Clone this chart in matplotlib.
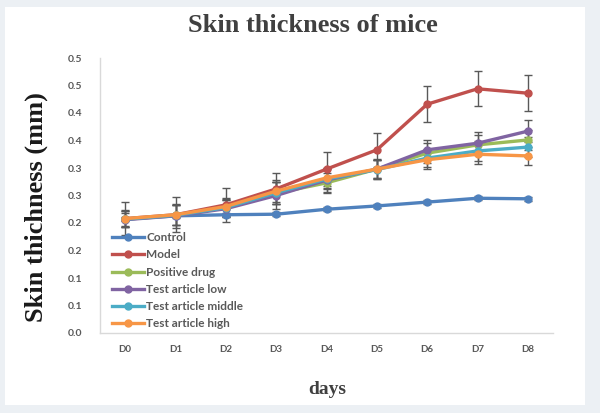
import matplotlib
matplotlib.use("Agg")
import matplotlib.pyplot as plt
from matplotlib.patches import Rectangle

days = ["D0", "D1", "D2", "D3", "D4", "D5", "D6", "D7", "D8"]
series_names = ["Control", "Model", "Positive drug", "Test article low",
                "Test article middle", "Test article high"]
control = [0.207, 0.213, 0.215, 0.216, 0.225, 0.231, 0.238, 0.245, 0.244]
model = [0.208, 0.215, 0.233, 0.262, 0.298, 0.333, 0.416, 0.444, 0.436]
positive = [0.207, 0.214, 0.228, 0.254, 0.273, 0.298, 0.327, 0.342, 0.351]
low = [0.206, 0.213, 0.226, 0.250, 0.278, 0.298, 0.333, 0.345, 0.367]
middle = [0.207, 0.214, 0.228, 0.255, 0.280, 0.297, 0.318, 0.331, 0.338]
high = [0.208, 0.215, 0.230, 0.258, 0.282, 0.298, 0.315, 0.325, 0.322]

control_err = [0.004, 0.004, 0.004, 0.004, 0.004, 0.004, 0.004, 0.004, 0.004]
model_err = [0.030, 0.032, 0.031, 0.028, 0.031, 0.031, 0.033, 0.032, 0.033]
positive_err = [0.015, 0.018, 0.015, 0.020, 0.018, 0.017, 0.018, 0.018, 0.018]
low_err = [0.012, 0.022, 0.015, 0.025, 0.022, 0.018, 0.018, 0.020, 0.020]
middle_err = [0.014, 0.018, 0.014, 0.020, 0.018, 0.017, 0.017, 0.018, 0.018]
high_err = [0.015, 0.018, 0.015, 0.020, 0.018, 0.017, 0.017, 0.018, 0.017]

y_ticks = [0.0, 0.05, 0.10, 0.15, 0.20, 0.25, 0.30, 0.35, 0.40, 0.45, 0.50]
y_tick_labels = ["0.0", "0.1", "0.1", "0.2", "0.2", "0.3", "0.3", "0.4", "0.4", "0.5", "0.5"]

colors = ["#4F81BD", "#C0504D", "#9BBB59", "#8064A2", "#4BACC6", "#F79646"]
values = [control, model, positive, low, middle, high]
errors = [control_err, model_err, positive_err, low_err, middle_err, high_err]

fig = plt.figure(figsize=(6.0, 4.13), dpi=100)
fig.patch.set_facecolor("#ECF0F4")
fig.patches.append(Rectangle((5 / 600, 1 - 405 / 413), 580 / 600, 398 / 413,
                             transform=fig.transFigure, facecolor="white",
                             edgecolor="none", zorder=-5))

ax = fig.add_axes([100 / 600, 1 - 333 / 413, 453 / 600, 275 / 413])
ax.set_facecolor("none")
ax.set_zorder(2)
x = list(range(len(days)))

for name, vals, errs, col in zip(series_names, values, errors, colors):
    ax.errorbar(x, vals, yerr=errs, fmt="none", ecolor="#595959",
                elinewidth=1.0, capsize=3, capthick=1.0, zorder=2)
    ax.plot(x, vals, color=col, linewidth=2.4, marker="o", markersize=5,
            label=name, zorder=3)

ax.set_xlim(-0.5, len(days) - 0.5)
ax.set_ylim(0, 0.5)
ax.set_xticks(x)
ax.set_xticklabels(days)
ax.set_yticks(y_ticks)
ax.set_yticklabels(y_tick_labels)
ax.tick_params(axis="both", length=0, labelcolor="#595959")
ax.tick_params(axis="y", pad=13, labelsize=7.5)
ax.tick_params(axis="x", pad=9, labelsize=7)
for lab in ax.get_xticklabels() + ax.get_yticklabels():
    lab.set_fontweight("bold")
    lab.set_family("Lato")

for side in ["top", "right"]:
    ax.spines[side].set_visible(False)
for side in ["left", "bottom"]:
    ax.spines[side].set_color("#D9D9D9")
    ax.spines[side].set_linewidth(1.0)

leg = ax.legend(loc="lower left", bbox_to_anchor=(0.0, -0.03), frameon=False,
                prop={"family": "Lato", "size": 8.5, "weight": "bold"},
                handlelength=2.7, handletextpad=0.2, labelspacing=0.53,
                borderaxespad=0.6)
for t in leg.get_texts():
    t.set_color("#595959")

fig.text(313 / 600, 1 - 26 / 413, "Skin thickness of mice", ha="center", va="center",
         family="Liberation Serif", fontweight="bold", fontsize=19, color="#404040")
fig.text(36 / 600, 1 - 207 / 413, "Skin thichness (mm)", ha="center", va="center",
         rotation=90, family="Liberation Serif", fontweight="bold", fontsize=19,
         color="#1A1A1A")
fig.text(327 / 600, 1 - 390 / 413, "days", ha="center", va="center",
         family="Liberation Serif", fontweight="bold", fontsize=14, color="#404040")

fig.savefig("out.png", dpi=100, facecolor=fig.get_facecolor())
